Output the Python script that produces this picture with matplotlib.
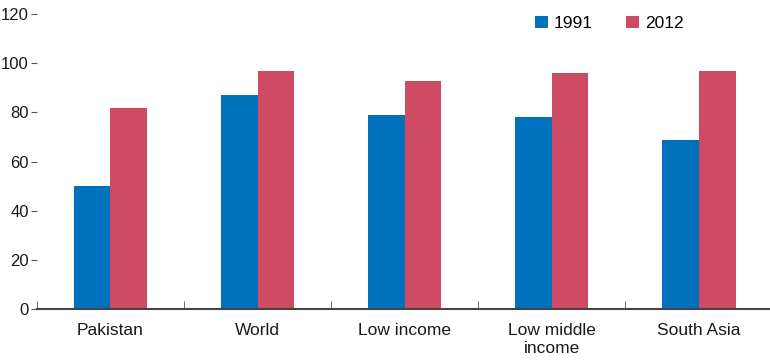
import numpy as np
import matplotlib.pyplot as plt

plt.rcParams['font.family'] = ['Liberation Sans', 'DejaVu Sans']

categories = ['Pakistan', 'World', 'Low income', 'Low middle\nincome', 'South Asia']
v1991 = [50, 87, 79, 78, 69]
v2012 = [82, 97, 93, 96, 97]

fig = plt.figure(figsize=(7.7, 3.64), dpi=100)
ax = fig.add_axes([0.048, 0.151, 0.955, 0.81])

x = np.arange(len(categories))
w = 0.25
ax.bar(x - w / 2, v1991, w, color='#0071bc', label='1991')
ax.bar(x + w / 2, v2012, w, color='#cf4b63', label='2012')

ax.set_xlim(-0.5, 4.5)
ax.set_ylim(0, 120)
ax.set_yticks(range(0, 121, 20))
ax.set_xticks(x)
ax.set_xticklabels(categories, fontsize=12.5, color='#1a1a1a', linespacing=1.25)
ax.set_xticks(np.arange(-0.5, 4.6, 1), minor=True)
ax.tick_params(axis='x', which='major', length=0, pad=10)
ax.tick_params(axis='x', which='minor', direction='in', length=6, color='#555555')
ax.tick_params(axis='y', length=4, color='#555555', labelsize=12, labelcolor='#1a1a1a', pad=2)
for s in ['top', 'right', 'left']:
    ax.spines[s].set_visible(False)
ax.spines['bottom'].set_color('#444444')
ax.spines['bottom'].set_linewidth(1.5)

ax.legend(loc='center left', bbox_to_anchor=(0.677, 0.969), ncol=2, frameon=False,
          fontsize=12.5, handlelength=0.75, handleheight=0.75, handletextpad=0.35,
          columnspacing=1.9, borderpad=0, borderaxespad=0)

fig.savefig('out.png', dpi=100)
